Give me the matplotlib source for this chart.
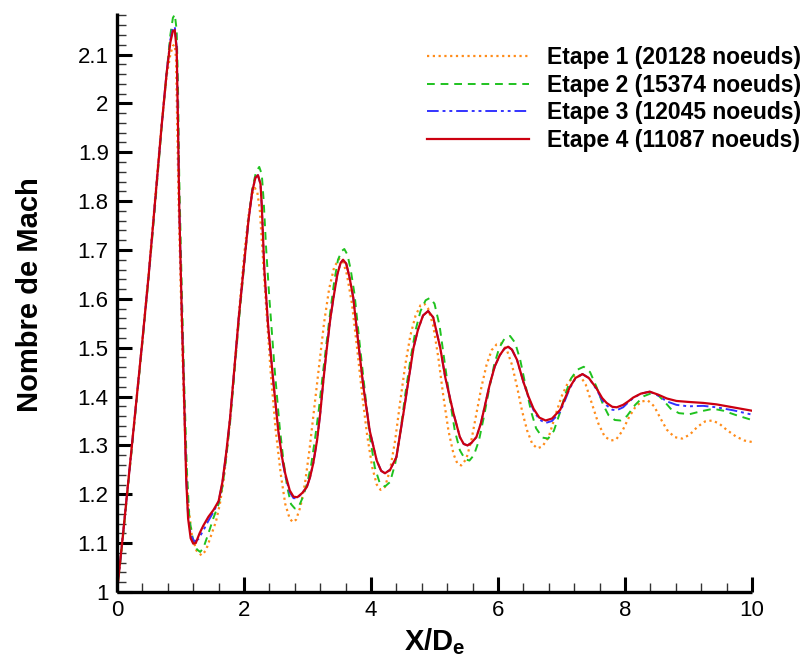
import matplotlib
matplotlib.use("Agg")
import matplotlib.pyplot as plt
from matplotlib.ticker import MultipleLocator, FixedLocator

plt.rcParams['font.family'] = ['Liberation Sans', 'DejaVu Sans']

labels = ["Etape 1 (20128 noeuds)", "Etape 2 (15374 noeuds)",
          "Etape 3 (12045 noeuds)", "Etape 4 (11087 noeuds)"]

# Etape 1
x1 = [0.00, 0.10, 0.20, 0.30, 0.40, 0.50, 0.60, 0.70, 0.78, 0.84, 0.88, 0.91, 0.93, 0.95,
      0.97, 1.00, 1.04, 1.08, 1.12, 1.18, 1.25, 1.33, 1.40, 1.48, 1.56, 1.62, 1.68, 1.74,
      1.80, 1.87, 1.94, 2.01, 2.08, 2.13, 2.17, 2.21, 2.25, 2.29, 2.34, 2.42, 2.50, 2.58,
      2.65, 2.72, 2.77, 2.82, 2.89, 2.96, 3.03, 3.10, 3.18, 3.26, 3.34, 3.42, 3.50, 3.56,
      3.62, 3.70, 3.78, 3.86, 3.94, 4.02, 4.09, 4.15, 4.22, 4.30, 4.38, 4.46, 4.54, 4.62,
      4.70, 4.78, 4.84, 4.90, 4.98, 5.06, 5.14, 5.22, 5.30, 5.36, 5.42, 5.50, 5.58, 5.66,
      5.74, 5.82, 5.90, 5.98, 6.06, 6.14, 6.22, 6.30, 6.38, 6.46, 6.54, 6.62, 6.70, 6.80,
      6.90, 7.00, 7.10, 7.20, 7.29, 7.38, 7.48, 7.58, 7.68, 7.78, 7.86, 7.96, 8.06, 8.16,
      8.26, 8.36, 8.46, 8.56, 8.66, 8.78, 8.90, 9.02, 9.14, 9.26, 9.37, 9.48, 9.60, 9.75,
      9.88, 10.0]
y1 = [1.000, 1.125, 1.255, 1.385, 1.515, 1.655, 1.805, 1.955, 2.055, 2.100, 2.118, 2.120, 2.090, 1.950,
      1.800, 1.640, 1.450, 1.290, 1.180, 1.115, 1.085, 1.075, 1.085, 1.115, 1.145, 1.180, 1.230, 1.300,
      1.380, 1.490, 1.600, 1.700, 1.780, 1.815, 1.827, 1.818, 1.780, 1.700, 1.600, 1.450, 1.330, 1.240,
      1.180, 1.150, 1.143, 1.148, 1.175, 1.222, 1.290, 1.370, 1.460, 1.550, 1.620, 1.665, 1.682, 1.676,
      1.650, 1.590, 1.500, 1.405, 1.320, 1.255, 1.220, 1.209, 1.215, 1.250, 1.310, 1.390, 1.465, 1.525,
      1.565, 1.587, 1.590, 1.580, 1.545, 1.480, 1.400, 1.330, 1.282, 1.263, 1.259, 1.272, 1.310, 1.365,
      1.420, 1.465, 1.495, 1.507, 1.509, 1.495, 1.465, 1.420, 1.370, 1.330, 1.303, 1.294, 1.298, 1.318,
      1.360, 1.400, 1.428, 1.442, 1.443, 1.425, 1.385, 1.345, 1.318, 1.310, 1.312, 1.330, 1.357, 1.378,
      1.390, 1.392, 1.380, 1.355, 1.332, 1.317, 1.314, 1.322, 1.338, 1.349, 1.351, 1.345, 1.332, 1.318,
      1.310, 1.307]

# Etape 2
x2 = [0.00, 0.10, 0.20, 0.30, 0.40, 0.50, 0.60, 0.70, 0.78, 0.84, 0.88, 0.91, 0.94, 0.96,
      0.98, 1.02, 1.06, 1.10, 1.14, 1.20, 1.26, 1.31, 1.36, 1.44, 1.52, 1.60, 1.66, 1.72,
      1.78, 1.85, 1.92, 2.00, 2.07, 2.13, 2.19, 2.24, 2.28, 2.31, 2.35, 2.40, 2.48, 2.56,
      2.62, 2.68, 2.74, 2.80, 2.86, 2.93, 3.00, 3.06, 3.12, 3.18, 3.24, 3.30, 3.36, 3.42,
      3.48, 3.54, 3.58, 3.63, 3.68, 3.74, 3.82, 3.90, 3.98, 4.06, 4.14, 4.22, 4.30, 4.38,
      4.46, 4.54, 4.62, 4.70, 4.78, 4.86, 4.93, 5.00, 5.08, 5.16, 5.24, 5.32, 5.40, 5.48,
      5.55, 5.62, 5.70, 5.78, 5.86, 5.94, 6.02, 6.10, 6.19, 6.27, 6.35, 6.43, 6.52, 6.60,
      6.70, 6.79, 6.88, 6.97, 7.06, 7.15, 7.25, 7.35, 7.45, 7.55, 7.65, 7.74, 7.84, 7.93,
      8.03, 8.16, 8.30, 8.42, 8.52, 8.62, 8.72, 8.85, 9.02, 9.20, 9.39, 9.55, 9.75, 10.0]
y2 = [1.000, 1.120, 1.250, 1.380, 1.510, 1.645, 1.790, 1.945, 2.060, 2.140, 2.175, 2.182, 2.150, 2.040,
      1.850, 1.620, 1.420, 1.250, 1.150, 1.105, 1.087, 1.082, 1.090, 1.120, 1.152, 1.180, 1.215, 1.275,
      1.345, 1.450, 1.555, 1.665, 1.760, 1.825, 1.860, 1.870, 1.855, 1.800, 1.700, 1.600, 1.460, 1.340,
      1.270, 1.215, 1.180, 1.171, 1.174, 1.195, 1.225, 1.262, 1.315, 1.375, 1.445, 1.510, 1.575, 1.635,
      1.680, 1.698, 1.702, 1.690, 1.660, 1.610, 1.510, 1.415, 1.320, 1.255, 1.222, 1.216, 1.225, 1.262,
      1.325, 1.405, 1.475, 1.535, 1.575, 1.597, 1.602, 1.590, 1.545, 1.470, 1.395, 1.330, 1.290, 1.272,
      1.269, 1.280, 1.310, 1.360, 1.415, 1.465, 1.500, 1.518, 1.524, 1.510, 1.475, 1.425, 1.370, 1.335,
      1.316, 1.314, 1.330, 1.365, 1.405, 1.437, 1.455, 1.461, 1.450, 1.420, 1.385, 1.362, 1.352, 1.351,
      1.360, 1.383, 1.401, 1.407, 1.403, 1.390, 1.375, 1.366, 1.364, 1.370, 1.375, 1.371, 1.362, 1.352]

# Etape 3
x3 = [0.00, 0.10, 0.20, 0.30, 0.40, 0.50, 0.60, 0.70, 0.78, 0.84, 0.88, 0.91, 0.94, 0.96,
      0.98, 1.02, 1.06, 1.09, 1.12, 1.16, 1.22, 1.28, 1.36, 1.44, 1.52, 1.60, 1.66, 1.72,
      1.78, 1.85, 1.92, 2.00, 2.07, 2.13, 2.18, 2.22, 2.26, 2.28, 2.32, 2.38, 2.46, 2.54,
      2.60, 2.65, 2.72, 2.78, 2.84, 2.92, 2.99, 3.04, 3.09, 3.15, 3.20, 3.25, 3.30, 3.36,
      3.41, 3.47, 3.52, 3.56, 3.61, 3.66, 3.72, 3.80, 3.88, 3.98, 4.09, 4.16, 4.22, 4.30,
      4.40, 4.51, 4.59, 4.67, 4.74, 4.82, 4.90, 4.98, 5.09, 5.17, 5.30, 5.40, 5.46, 5.52,
      5.58, 5.66, 5.73, 5.80, 5.87, 5.95, 6.03, 6.10, 6.16, 6.22, 6.30, 6.40, 6.48, 6.56,
      6.65, 6.75, 6.85, 6.98, 7.06, 7.13, 7.22, 7.33, 7.43, 7.55, 7.64, 7.71, 7.80, 7.87,
      7.97, 8.05, 8.13, 8.25, 8.39, 8.52, 8.66, 8.81, 9.00, 9.23, 9.44, 9.70, 10.0]
y3 = [1.000, 1.125, 1.255, 1.385, 1.515, 1.650, 1.800, 1.950, 2.062, 2.130, 2.154, 2.157, 2.115, 1.965,
      1.795, 1.575, 1.385, 1.235, 1.155, 1.117, 1.103, 1.108, 1.126, 1.146, 1.164, 1.185, 1.224, 1.284,
      1.354, 1.460, 1.565, 1.670, 1.760, 1.820, 1.848, 1.853, 1.835, 1.790, 1.660, 1.545, 1.433, 1.330,
      1.272, 1.238, 1.204, 1.192, 1.192, 1.203, 1.215, 1.235, 1.263, 1.310, 1.365, 1.433, 1.494, 1.560,
      1.603, 1.650, 1.673, 1.680, 1.672, 1.645, 1.603, 1.510, 1.420, 1.330, 1.269, 1.248, 1.243, 1.250,
      1.276, 1.365, 1.433, 1.500, 1.537, 1.566, 1.575, 1.562, 1.500, 1.439, 1.365, 1.317, 1.303, 1.300,
      1.305, 1.317, 1.345, 1.385, 1.425, 1.462, 1.485, 1.498, 1.502, 1.496, 1.475, 1.430, 1.398, 1.372,
      1.353, 1.346, 1.350, 1.369, 1.394, 1.417, 1.437, 1.446, 1.438, 1.415, 1.393, 1.382, 1.373, 1.372,
      1.378, 1.388, 1.397, 1.406, 1.410, 1.402, 1.390, 1.383, 1.380, 1.381, 1.378, 1.372, 1.363]

# Etape 4
x4 = [0.00, 0.10, 0.20, 0.30, 0.40, 0.50, 0.60, 0.70, 0.78, 0.84, 0.88, 0.91, 0.94, 0.96,
      0.98, 1.02, 1.06, 1.09, 1.12, 1.16, 1.20, 1.24, 1.30, 1.36, 1.44, 1.52, 1.60, 1.66,
      1.72, 1.78, 1.85, 1.92, 2.00, 2.07, 2.13, 2.18, 2.22, 2.26, 2.28, 2.32, 2.38, 2.46,
      2.54, 2.60, 2.65, 2.72, 2.78, 2.84, 2.92, 2.99, 3.04, 3.09, 3.15, 3.20, 3.25, 3.30,
      3.36, 3.41, 3.47, 3.52, 3.56, 3.61, 3.66, 3.72, 3.80, 3.88, 3.98, 4.09, 4.16, 4.22,
      4.30, 4.40, 4.51, 4.59, 4.67, 4.74, 4.82, 4.90, 4.98, 5.09, 5.17, 5.30, 5.40, 5.46,
      5.52, 5.58, 5.66, 5.73, 5.80, 5.87, 5.95, 6.03, 6.10, 6.16, 6.22, 6.30, 6.40, 6.48,
      6.56, 6.65, 6.75, 6.85, 6.98, 7.06, 7.13, 7.22, 7.33, 7.43, 7.55, 7.64, 7.71, 7.80,
      7.87, 7.97, 8.05, 8.13, 8.25, 8.39, 8.52, 8.66, 8.81, 9.00, 9.23, 9.44, 9.70, 10.0]
y4 = [1.000, 1.125, 1.255, 1.385, 1.515, 1.650, 1.800, 1.950, 2.060, 2.125, 2.148, 2.150, 2.110, 1.960,
      1.790, 1.570, 1.380, 1.230, 1.150, 1.110, 1.099, 1.100, 1.120, 1.136, 1.154, 1.168, 1.186, 1.225,
      1.285, 1.355, 1.460, 1.565, 1.670, 1.760, 1.820, 1.848, 1.853, 1.835, 1.790, 1.660, 1.545, 1.433,
      1.330, 1.275, 1.242, 1.208, 1.195, 1.194, 1.203, 1.215, 1.235, 1.263, 1.310, 1.365, 1.433, 1.494,
      1.560, 1.603, 1.650, 1.673, 1.680, 1.672, 1.645, 1.603, 1.510, 1.420, 1.330, 1.269, 1.248, 1.243,
      1.250, 1.276, 1.365, 1.433, 1.500, 1.537, 1.566, 1.575, 1.562, 1.500, 1.439, 1.365, 1.317, 1.303,
      1.300, 1.305, 1.317, 1.345, 1.385, 1.425, 1.462, 1.485, 1.498, 1.502, 1.496, 1.475, 1.430, 1.400,
      1.375, 1.357, 1.351, 1.355, 1.373, 1.398, 1.419, 1.438, 1.446, 1.438, 1.417, 1.397, 1.387, 1.379,
      1.378, 1.383, 1.390, 1.398, 1.406, 1.410, 1.404, 1.396, 1.391, 1.389, 1.387, 1.384, 1.378, 1.371]

x_ticks = [0, 2, 4, 6, 8, 10]
y_ticks = [1.0, 1.1, 1.2, 1.3, 1.4, 1.5, 1.6, 1.7, 1.8, 1.9, 2.0, 2.1]
y_tick_labels = ["1", "1.1", "1.2", "1.3", "1.4", "1.5", "1.6", "1.7", "1.8", "1.9", "2", "2.1"]

fig = plt.figure(figsize=(8.06, 6.70), dpi=100)
ax = fig.add_axes([117/806, 78/670, (752-117)/806, (592-13)/670])

ax.plot(x1, y1, color='#FF8C1A', linestyle=(0, (1, 1.6)), lw=1.6, label=labels[0])
ax.plot(x2, y2, color='#1FC21F', linestyle=(0, (4, 3)), lw=1.4, label=labels[1])
ax.plot(x3, y3, color='#3333FF', linestyle=(0, (6, 2, 1.5, 2, 1.5, 2)), lw=1.4, label=labels[2])
ax.plot(x4, y4, color='#CC0010', linestyle='-', lw=1.6, label=labels[3])

ax.set_xlim(0, 10)
ax.set_ylim(1.0, 2.185)

for s in ['top', 'right']:
    ax.spines[s].set_visible(False)
for s in ['left', 'bottom']:
    ax.spines[s].set_linewidth(2.4)
    ax.spines[s].set_capstyle('butt')

ax.xaxis.set_major_locator(FixedLocator(x_ticks))
ax.xaxis.set_minor_locator(MultipleLocator(0.4))
ax.yaxis.set_major_locator(FixedLocator(y_ticks))
ax.yaxis.set_minor_locator(MultipleLocator(0.02))
ax.set_yticklabels(y_tick_labels)

ax.tick_params(which='major', direction='in', length=11, width=2.2, labelsize=16, pad=6)
ax.tick_params(which='minor', direction='in', length=6.5, width=1.0, color='#333333')

ax.set_xlabel(r"X/D$_\mathregular{e}$", fontsize=21, fontweight='bold')
ax.set_ylabel("Nombre de Mach", fontsize=21, fontweight='bold')
ax.xaxis.label.set_va('center')
ax.yaxis.label.set_va('center')
ax.xaxis.set_label_coords((435 - 117) / 635, (592 - 642) / 579)
ax.yaxis.set_label_coords((30 - 117) / 635, (592 - 295) / 579)

leg = ax.legend(loc='upper right', bbox_to_anchor=(801/806, 1 - 46/670),
                bbox_transform=fig.transFigure, frameon=False,
                prop={'weight': 'bold', 'size': 16.5}, handlelength=4.45,
                handletextpad=0.8, labelspacing=0.2, borderpad=0, borderaxespad=0)

fig.savefig("out.png", dpi=100)
